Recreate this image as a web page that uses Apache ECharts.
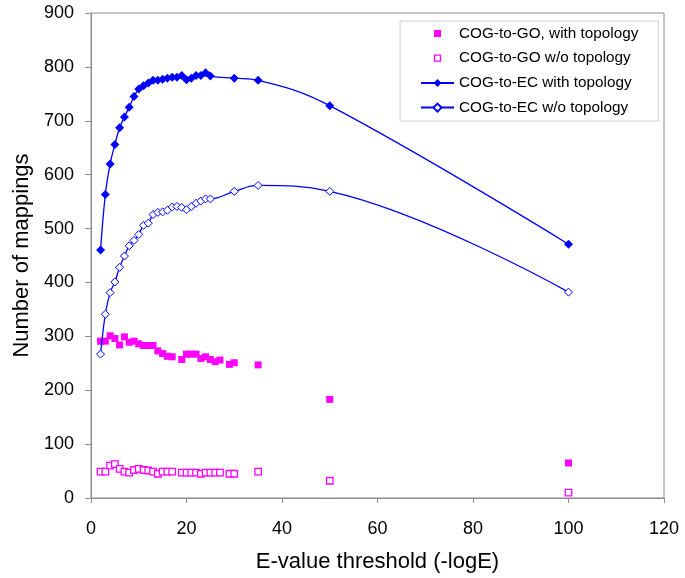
<!DOCTYPE html>
<html>
<head>
<meta charset="utf-8">
<script src="https://cdn.jsdelivr.net/npm/echarts@6/dist/echarts.min.js"></script>
<style>
html,body{margin:0;padding:0;background:#fff;}
#chart{width:685px;height:578px;}
</style>
</head>
<body>
<div id="chart"></div>
<script>
// ---- data ----
const ecX = [2,3,4,5,6,7,8,9,10,11,12,13,14,15,16,17,18,19,20,21,22,23,24,25,30,35,50,100];
const ecWithTopology = [460,563,620,656,687,707,725,745,759,765,770,775,775,777,779,781,781,784,776,779,784,784,789,783,779,775,728,471];
const ecWithoutTopology = [267,341,381,401,428,449,468,478,489,506,510,526,530,531,534,540,541,539,535,541,547,551,555,555,569,580,569,382];

const goX = [2,3,4,5,6,7,8,9,10,11,12,13,14,15,16,17,19,20,21,22,23,24,25,26,27,29,30,35,50,100];
const goWithTopology = [291,291,301,296,284,299,289,291,286,283,283,283,273,268,263,262,257,267,267,267,259,262,257,253,256,248,251,247,183,65];
const goWithoutTopology = [49,49,60,63,54,49,47,52,54,52,51,49,45,49,49,49,47,47,47,47,45,47,47,47,47,45,45,49,32,10];

const seriesNames = ['COG-to-GO, with topology','COG-to-GO w/o topology','COG-to-EC with topology','COG-to-EC w/o topology'];
const xTitle = 'E-value threshold (-logE)';
const yTitle = 'Number of mappings';

const pairs = (xs, ys) => xs.map((x, i) => [x, ys[i]]);

const FONT = "'Liberation Sans', Arial, Helvetica, sans-serif";
const MAGENTA = '#ff00ff';
const BLUE = '#0000ff';
const AXIS_GRAY = '#8c8c8c';

const chart = echarts.init(document.getElementById('chart'), null, {renderer: 'canvas'});
chart.setOption({
  backgroundColor: '#ffffff',
  animation: false,
  textStyle: {fontFamily: FONT},
  grid: {left: 91, right: 21, top: 13, bottom: 80, show: true, borderColor: AXIS_GRAY, borderWidth: 1, containLabel: false},
  legend: {
    orient: 'vertical',
    left: 400, top: 21,
    padding: [5, 20, 6, 20],
    itemWidth: 33, itemHeight: 10, itemGap: 9.7,
    backgroundColor: '#ffffff',
    borderColor: '#d0d0d0', borderWidth: 1,
    textStyle: {fontFamily: FONT, fontSize: 15.3, color: '#000', lineHeight: 15},
    data: [
      {name: seriesNames[0], icon: 'path://M0,0M10,10M1.5,1.5h7v7h-7z', itemStyle: {borderWidth: 0}},
      {name: seriesNames[1], icon: 'path://M0,0M10,10M2,2h6v6h-6z', itemStyle: {borderWidth: 1.3}},
      {name: seriesNames[2]},
      {name: seriesNames[3]}
    ]
  },
  xAxis: {
    type: 'value', min: 0, max: 120, interval: 20,
    name: xTitle, nameLocation: 'middle', nameGap: 53,
    nameTextStyle: {fontFamily: FONT, fontSize: 22, color: '#000'},
    axisLine: {show: true, onZero: false, lineStyle: {color: AXIS_GRAY, width: 1}},
    axisTick: {show: true, length: 5, inside: false, lineStyle: {color: AXIS_GRAY}},
    axisLabel: {fontFamily: FONT, fontSize: 18, color: '#000', margin: 22},
    splitLine: {show: false}
  },
  yAxis: {
    type: 'value', min: 0, max: 900, interval: 100,
    name: yTitle, nameLocation: 'middle', nameGap: 56,
    nameTextStyle: {fontFamily: FONT, fontSize: 22, color: '#000'},
    axisLine: {show: true, onZero: false, lineStyle: {color: AXIS_GRAY, width: 1}},
    axisTick: {show: true, length: 6, inside: false, lineStyle: {color: AXIS_GRAY}},
    axisLabel: {fontFamily: FONT, fontSize: 18, color: '#000', margin: 17},
    splitLine: {show: false}
  },
  series: [
    {
      name: seriesNames[0], type: 'scatter', data: pairs(goX, goWithTopology),
      symbol: 'rect', symbolSize: 7,
      itemStyle: {color: MAGENTA, opacity: 1}, z: 2
    },
    {
      name: seriesNames[1], type: 'scatter', data: pairs(goX, goWithoutTopology),
      symbol: 'rect', symbolSize: 6.5,
      itemStyle: {color: '#ffffff', borderColor: MAGENTA, borderWidth: 1.3, opacity: 1}, z: 2
    },
    {
      name: seriesNames[2], type: 'line', data: pairs(ecX, ecWithTopology),
      smooth: 0.4, symbol: 'diamond', symbolSize: 9, showAllSymbol: true,
      lineStyle: {color: BLUE, width: 1.3},
      itemStyle: {color: BLUE, borderColor: BLUE, borderWidth: 0}, z: 3
    },
    {
      name: seriesNames[3], type: 'line', data: pairs(ecX, ecWithoutTopology),
      smooth: 0.4, symbol: 'diamond', symbolSize: 8, showAllSymbol: true,
      lineStyle: {color: BLUE, width: 1.3},
      itemStyle: {color: '#ffffff', borderColor: BLUE, borderWidth: 1}, z: 3
    }
  ]
});
</script>
</body>
</html>
